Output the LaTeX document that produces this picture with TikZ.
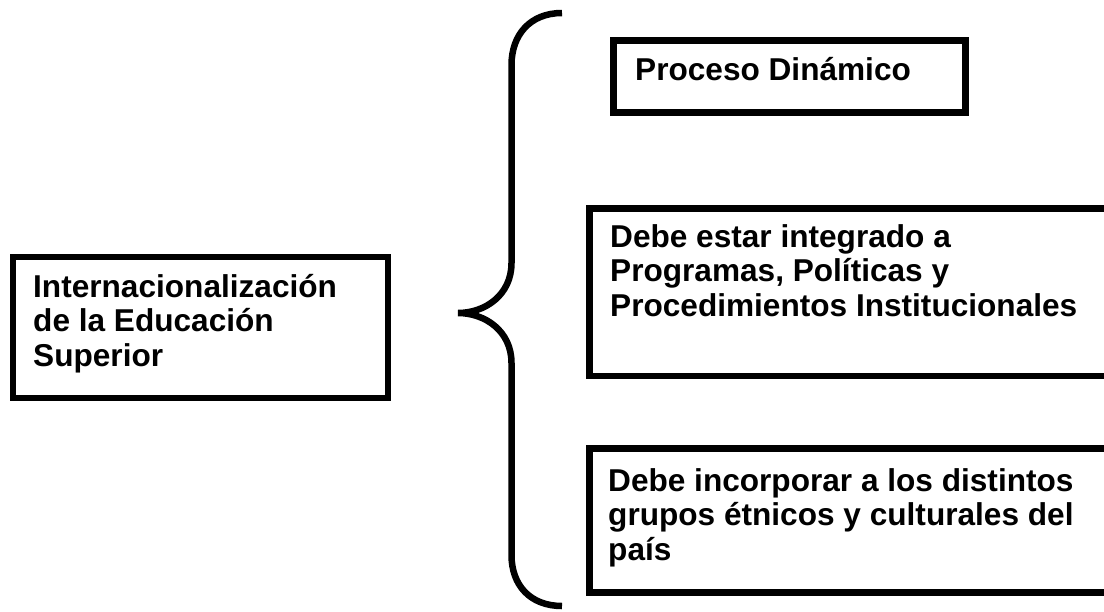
\documentclass[tikz,border=0pt]{standalone}
\usepackage{fontspec}
\setmainfont{Liberation Sans}
\begin{document}
\begin{tikzpicture}[x=1pt,y=-1pt,
  boxstyle/.style={draw=black, line width=6.5pt, inner sep=0pt, anchor=north west},
  txt/.style={anchor=base west, inner sep=0pt, font=\fontsize{31.6}{34.5}\selectfont\bfseries, align=left},
  bracestyle/.style={draw=black, line width=6.5pt}]
\useasboundingbox[fill=white] (0,0) rectangle (1104,611);
% boxes
\node[boxstyle, minimum width=375pt, minimum height=141pt] (leftbox) at (9.5,253.5) {};
\node[boxstyle, minimum width=352pt, minimum height=72pt] (box1) at (610,37) {};
\node[boxstyle, minimum width=530pt, minimum height=167.5pt] (box2) at (586,205) {};
\node[boxstyle, minimum width=530pt, minimum height=144pt] (box3) at (586,445) {};
% texts (base anchor = baseline of the last line)
\node[txt] (t0) at (33,366) {Internacionalización\\de la Educación\\Superior};
\node[txt] (t1) at (635,80.5) {Proceso Dinámico};
\node[txt] (t2) at (610,316) {Debe estar integrado a\\Programas, Políticas y\\Procedimientos Institucionales};
\node[txt] (t3) at (608,560) {Debe incorporar a los distintos\\grupos étnicos y culturales del\\país};
% brace
\draw[bracestyle] (562,13) .. controls (530,13) and (511.5,35) .. (511.5,65)
  -- (511.5,263) .. controls (511.5,295) and (485,313) .. (458,313)
  .. controls (485,313) and (511.5,331) .. (511.5,363)
  -- (511.5,555) .. controls (511.5,585) and (530,606) .. (562,606);
\end{tikzpicture}
\end{document}
